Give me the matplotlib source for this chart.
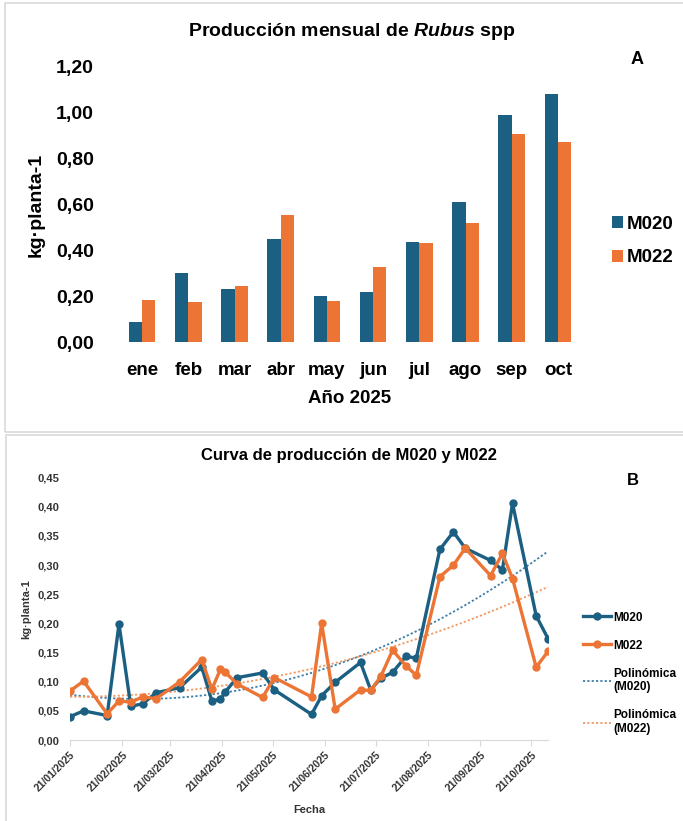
import numpy as np
import pandas as pd
import matplotlib
matplotlib.use('Agg')
import matplotlib.pyplot as plt
import matplotlib.dates as mdates
from matplotlib.patches import Rectangle

# ---- datos panel A ----
MESES = ['ene', 'feb', 'mar', 'abr', 'may', 'jun', 'jul', 'ago', 'sep', 'oct']
A_M020 = [0.090, 0.300, 0.234, 0.451, 0.202, 0.221, 0.437, 0.611, 0.988, 1.083]
A_M022 = [0.183, 0.177, 0.245, 0.554, 0.179, 0.327, 0.433, 0.518, 0.909, 0.871]
A_YTICKS = [0.0, 0.2, 0.4, 0.6, 0.8, 1.0, 1.2]

# ---- datos panel B ----
FECHAS = ['2025-01-21', '2025-01-29', '2025-02-12', '2025-02-19', '2025-02-26',
          '2025-03-05', '2025-03-13', '2025-03-27', '2025-04-09', '2025-04-15',
          '2025-04-20', '2025-04-23', '2025-04-30', '2025-05-15', '2025-05-22',
          '2025-06-13', '2025-06-19', '2025-06-27', '2025-07-12', '2025-07-18',
          '2025-07-24', '2025-07-31', '2025-08-08', '2025-08-14', '2025-08-28',
          '2025-09-05', '2025-09-12', '2025-09-27', '2025-10-04', '2025-10-10',
          '2025-10-24', '2025-10-31']
B_M020 = [0.040, 0.050, 0.042, 0.199, 0.058, 0.062, 0.081, 0.090, 0.125, 0.067,
          0.070, 0.083, 0.107, 0.115, 0.086, 0.044, 0.076, 0.099, 0.133, 0.086,
          0.106, 0.116, 0.144, 0.140, 0.327, 0.357, 0.329, 0.308, 0.292, 0.406,
          0.213, 0.174]
B_M022 = [0.084, 0.101, 0.045, 0.067, 0.065, 0.074, 0.071, 0.100, 0.138, 0.087,
          0.121, 0.116, 0.096, 0.073, 0.107, 0.074, 0.200, 0.053, 0.086, 0.085,
          0.109, 0.154, 0.127, 0.111, 0.280, 0.300, 0.329, 0.282, 0.320, 0.277,
          0.125, 0.152]
B_XTICKS = ['2025-01-21', '2025-02-21', '2025-03-21', '2025-04-21', '2025-05-21',
            '2025-06-21', '2025-07-21', '2025-08-21', '2025-09-21', '2025-10-21']
B_YTICKS = [0.0, 0.05, 0.10, 0.15, 0.20, 0.25, 0.30, 0.35, 0.40, 0.45]

AZUL = '#1B5F82'
NARANJA = '#EC7535'
AZUL_T = '#3A7FA8'
NARANJA_T = '#F29A62'

W, H = 683, 821
plt.rcParams['font.family'] = ['Liberation Sans', 'DejaVu Sans']
plt.rcParams['mathtext.fontset'] = 'custom'
plt.rcParams['mathtext.it'] = 'Liberation Sans:italic:bold'
plt.rcParams['mathtext.rm'] = 'Liberation Sans:bold'

fig = plt.figure(figsize=(W / 100, H / 100), dpi=100)


def fx(px):
    return px / W


def fy(py):
    return 1 - py / H


# marcos grises de cada panel
fig.patches.append(Rectangle((fx(5), fy(432)), fx(700), 429 / H, transform=fig.transFigure,
                             fill=False, edgecolor='#D9D9D9', linewidth=1.2))
fig.patches.append(Rectangle((fx(6), fy(840)), fx(700), 405 / H, transform=fig.transFigure,
                             fill=False, edgecolor='#D9D9D9', linewidth=1.2))

# ================= Panel A =================
axA = fig.add_axes([fx(119), fy(342.3), fx(462), 275.6 / H])
x = np.arange(len(MESES))
bw = 0.29
axA.bar(x - bw / 2, A_M020, bw, color=AZUL, label='M020')
axA.bar(x + bw / 2, A_M022, bw, color=NARANJA, label='M022')
axA.set_xlim(-0.5, len(MESES) - 0.5)
axA.set_ylim(0, 1.2)
axA.set_yticks(A_YTICKS)
axA.set_yticklabels([f'{v:.2f}'.replace('.', ',') for v in A_YTICKS],
                    fontsize=14, fontweight='bold')
axA.set_xticks(x)
axA.set_xticklabels(MESES, fontsize=13.5, fontweight='bold')
for s in axA.spines.values():
    s.set_visible(False)
axA.tick_params(length=0, pad=14)
axA.tick_params(axis='y', pad=18)
axA.set_xlabel('Año 2025', fontsize=13.5, fontweight='bold', labelpad=8)
axA.set_ylabel('kg·planta-1', fontsize=14, fontweight='bold', labelpad=8)
fig.text(fx(352), fy(32), 'Producción mensual de $\\it{Rubus}$ spp', ha='center', va='center',
         fontsize=14, fontweight='bold')
fig.text(fx(637), fy(60), 'A', ha='center', va='center', fontsize=13, fontweight='bold')
axA.legend(loc='center left', bbox_to_anchor=(fx(604), fy(241)), bbox_transform=fig.transFigure,
           frameon=False, prop={'size': 13.5, 'weight': 'bold'}, handlelength=0.6,
           handleheight=0.6, handletextpad=0.2, labelspacing=0.9, borderaxespad=0)

# ================= Panel B =================
fechas = pd.to_datetime(FECHAS)
axB = fig.add_axes([fx(70), fy(740), fx(478), 262.3 / H])
axB.plot(fechas, B_M020, color=AZUL, lw=2.4, marker='o', ms=5, label='M020', zorder=3)
axB.plot(fechas, B_M022, color=NARANJA, lw=2.4, marker='o', ms=5, label='M022', zorder=3)

# líneas de tendencia polinómicas (orden 2)
dias = (fechas - fechas[0]).days.values.astype(float)
dd = np.linspace(dias[0], dias[-1], 200)
fd = fechas[0] + pd.to_timedelta(dd, unit='D')
for vals, col, lab in [(B_M020, AZUL_T, 'Polinómica\n(M020)'), (B_M022, NARANJA_T, 'Polinómica\n(M022)')]:
    p = np.polyfit(dias, vals, 2)
    axB.plot(fd, np.polyval(p, dd), color=col, lw=1.3, ls=(0, (1.2, 1.2)), label=lab, zorder=2)

axB.set_xlim(fechas[0], fechas[-1])
axB.set_ylim(0, 0.45)
axB.set_yticks(B_YTICKS)
axB.set_yticklabels([f'{v:.2f}'.replace('.', ',') for v in B_YTICKS],
                    fontsize=8, fontweight='bold', color='#333333')
axB.set_xticks(pd.to_datetime(B_XTICKS))
axB.xaxis.set_major_formatter(mdates.DateFormatter('%d/%m/%Y'))
plt.setp(axB.get_xticklabels(), rotation=45, ha='right', rotation_mode='anchor',
         fontsize=7.5, fontweight='bold', color='#333333')
for k in ['top', 'right', 'left']:
    axB.spines[k].set_visible(False)
axB.spines['bottom'].set_color('#D9D9D9')
axB.tick_params(axis='y', length=0, pad=8)
axB.tick_params(axis='x', length=4, color='#D9D9D9', pad=3)
axB.set_xlabel('Fecha', fontsize=8, fontweight='bold', color='#333333', labelpad=8)
axB.set_ylabel('kg·planta-1', fontsize=8, fontweight='bold', color='#333333', labelpad=4)
fig.text(fx(349), fy(455), 'Curva de producción de M020 y M022', ha='center', va='center',
         fontsize=12, fontweight='bold')
fig.text(fx(633), fy(480), 'B', ha='center', va='center', fontsize=12, fontweight='bold')
axB.legend(loc='upper left', bbox_to_anchor=(fx(572), fy(601)), bbox_transform=fig.transFigure,
           frameon=False, prop={'size': 8.5, 'weight': 'bold'}, handlelength=2.4,
           handletextpad=0.2, labelspacing=1.35)

fig.savefig('out.png', dpi=100)
